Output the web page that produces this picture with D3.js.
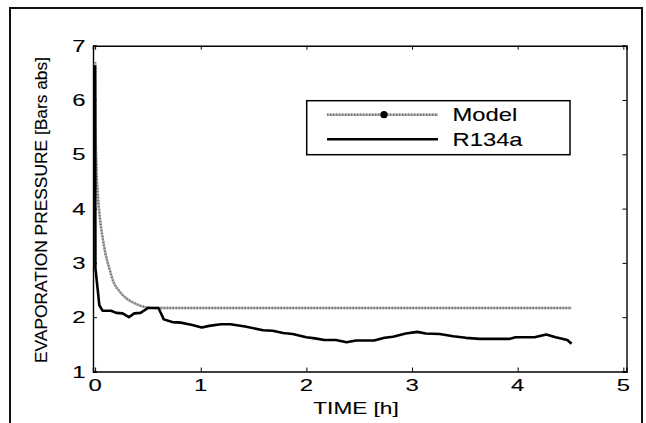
<!DOCTYPE html>
<html>
<head>
<meta charset="utf-8">
<script src="https://cdn.jsdelivr.net/npm/d3@7"></script>
<style>
  html, body { margin: 0; padding: 0; background: #fff; }
  text { font-family: Arial, "Liberation Sans", sans-serif; fill: #000; stroke: #000; stroke-width: 0.12px; }
</style>
</head>
<body>
<div id="chart"></div>
<script>
const width = 646
const height = 423

// x ticks / y ticks
const xTicks = [0, 1, 2, 3, 4, 5]
const yTicks = [1, 2, 3, 4, 5, 6, 7]

// Model curve
const modelTime = [0, 0.004, 0.012, 0.025, 0.05, 0.075, 0.1, 0.13, 0.18, 0.23, 0.3, 0.36, 0.43, 0.5, 0.58, 4.51]
const modelPressure = [6.7, 5.6, 4.8, 4.28, 3.75, 3.42, 3.15, 2.93, 2.62, 2.48, 2.34, 2.27, 2.21, 2.18, 2.17, 2.17]

// R134a measurement
const r134aTime = [0, 0.003, 0.025, 0.04, 0.07, 0.15, 0.2, 0.26, 0.32, 0.37, 0.43, 0.5, 0.6, 0.65, 0.73, 0.81, 0.91,
  1.01, 1.08, 1.19, 1.28, 1.42, 1.59, 1.68, 1.78, 1.87, 2.0, 2.08, 2.17, 2.28, 2.38, 2.47, 2.64, 2.74, 2.82, 2.94,
  3.05, 3.13, 3.26, 3.39, 3.51, 3.64, 3.83, 3.92, 3.98, 4.16, 4.27, 4.36, 4.47, 4.51]
const r134aPressure = [6.64, 2.9, 2.5, 2.22, 2.12, 2.12, 2.08, 2.07, 2.0, 2.07, 2.08, 2.17, 2.17, 1.96, 1.91, 1.9, 1.86,
  1.81, 1.84, 1.87, 1.87, 1.83, 1.76, 1.75, 1.71, 1.69, 1.63, 1.61, 1.58, 1.58, 1.54, 1.57, 1.57, 1.62, 1.64, 1.7,
  1.73, 1.7, 1.69, 1.65, 1.62, 1.6, 1.6, 1.6, 1.63, 1.63, 1.68, 1.63, 1.58, 1.51]

const legendLabels = ['Model', 'R134a']

const plot = { left: 93, right: 626.5, top: 45.7, bottom: 371.5 }

const svg = d3.select('#chart').append('svg')
  .attr('width', width)
  .attr('height', height)

// outer frame
svg.append('rect')
  .attr('x', 10).attr('y', 8)
  .attr('width', 632).attr('height', 430)
  .attr('fill', 'none')
  .attr('stroke', '#111')
  .attr('stroke-width', 2)

const x = d3.scaleLinear().domain([-0.02, 5.03]).range([plot.left, plot.right])
const y = d3.scaleLinear().domain([1, 7]).range([plot.bottom, plot.top])

// stretched text helper (the picture's glyphs are wide)
const wideText = (sel, px, py, str, size, sx, anchor) => {
  return sel.append('text')
    .attr('transform', `translate(${px},${py}) scale(${sx},1)`)
    .attr('font-size', size)
    .attr('text-anchor', anchor)
    .text(str)
}

// axes, inward ticks like matlab
const tick = 4
const axisBottom = d3.axisBottom(x).tickValues(xTicks).tickSize(-tick).tickFormat('')
const axisTop = d3.axisTop(x).tickValues(xTicks).tickSize(-tick).tickFormat('')
const axisLeft = d3.axisLeft(y).tickValues(yTicks).tickSize(-tick).tickFormat('')
const axisRight = d3.axisRight(y).tickValues(yTicks).tickSize(-tick).tickFormat('')

const axes = [
  [axisBottom, `translate(0,${plot.bottom})`],
  [axisTop, `translate(0,${plot.top})`],
  [axisLeft, `translate(${plot.left},0)`],
  [axisRight, `translate(${plot.right},0)`]
]
axes.forEach(([ax, tr]) => {
  const g = svg.append('g').attr('transform', tr).call(ax)
  g.select('.domain').attr('stroke', '#000').attr('stroke-width', 1.4)
  g.selectAll('.tick line').attr('stroke', '#000').attr('stroke-width', 1)
})

// tick labels
xTicks.forEach(t => wideText(svg, x(t), 391, String(t), 16.5, 1.45, 'middle'))
yTicks.forEach(t => wideText(svg, 85.5, y(t) + 6, String(t), 16.5, 1.45, 'end'))

// axis titles
wideText(svg, 356, 413.5, 'TIME [h]', 17, 1.33, 'middle')
svg.append('text')
  .attr('transform', 'translate(47,210) rotate(-90)')
  .attr('font-size', 16.5)
  .attr('text-anchor', 'middle')
  .attr('textLength', 306)
  .attr('lengthAdjust', 'spacingAndGlyphs')
  .text('EVAPORATION PRESSURE [Bars abs]')

// lines
const modelData = modelTime.map((t, i) => [t, modelPressure[i]])
const r134aData = r134aTime.map((t, i) => [t, r134aPressure[i]])

const modelLine = d3.line().x(d => x(d[0])).y(d => y(d[1])).curve(d3.curveMonotoneX)
const r134aLine = d3.line().x(d => x(d[0])).y(d => y(d[1]))

const drawModelStroke = (sel, d) => {
  sel.append('path').attr('d', d)
    .attr('fill', 'none').attr('stroke', '#b4b4b4').attr('stroke-width', 2.4)
  sel.append('path').attr('d', d)
    .attr('fill', 'none').attr('stroke', '#7a7a7a').attr('stroke-width', 2.4)
    .attr('stroke-dasharray', '1.3 1.7')
}

const curves = svg.append('g')
drawModelStroke(curves, modelLine(modelData))
curves.append('path')
  .attr('d', r134aLine(r134aData))
  .attr('fill', 'none')
  .attr('stroke', '#000')
  .attr('stroke-width', 2.6)
  .attr('stroke-linejoin', 'round')

// legend
const legend = svg.append('g')
legend.append('rect')
  .attr('x', 306.7).attr('y', 100.7)
  .attr('width', 263.3).attr('height', 54)
  .attr('fill', '#fff')
  .attr('stroke', '#000')
  .attr('stroke-width', 1.5)

const legY = [114.7, 139.3]
drawModelStroke(legend, d3.line()([[327, legY[0]], [438, legY[0]]]))
legend.append('circle')
  .attr('cx', 384).attr('cy', legY[0]).attr('r', 3.6)
  .attr('fill', '#000')
legend.append('path')
  .attr('d', d3.line()([[327, legY[1]], [438, legY[1]]]))
  .attr('stroke', '#000').attr('stroke-width', 2.6)

legendLabels.forEach((s, i) => wideText(legend, 452.5, legY[i] + 6.5, s, 17.5, 1.36, 'start'))
</script>
</body>
</html>
